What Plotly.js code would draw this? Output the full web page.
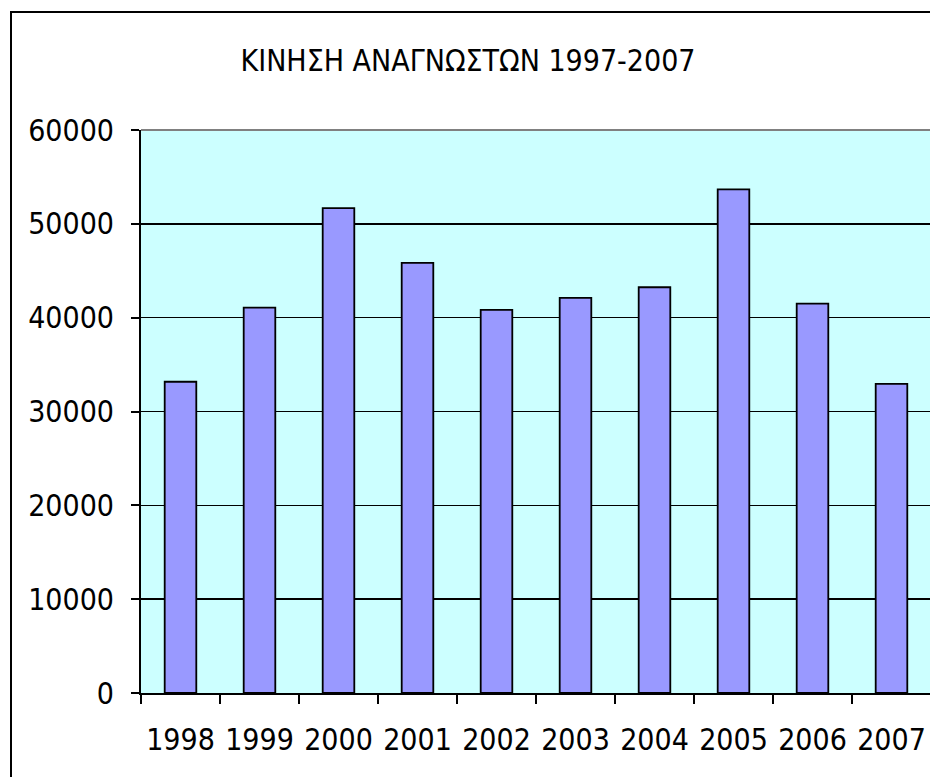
<!DOCTYPE html>
<html>
<head>
<meta charset="utf-8">
<script src="https://cdn.plot.ly/plotly-3.0.1.min.js"></script>
<style>
html, body { margin: 0; padding: 0; overflow: hidden; background: #ffffff; }
#chart { width: 931px; height: 800px; }
</style>
</head>
<body>
<div id="chart"></div>
<script>
var years = ['1998', '1999', '2000', '2001', '2002', '2003', '2004', '2005', '2006', '2007'];
var readers = [33170, 41070, 51670, 45840, 40820, 42100, 43240, 53670, 41500, 32950];
var yTicks = [0, 10000, 20000, 30000, 40000, 50000, 60000];
var titleText = 'ΚΙΝΗΣΗ ΑΝΑΓΝΩΣΤΩΝ 1997-2007';

var fontFamily = '"DejaVu Sans Condensed", "DejaVu Sans", sans-serif';
var fs = 30;
var W = 931, H = 800;
var mL = 141, mR = 0, mT = 130, mB = 107;
var pw = W - mL - mR, ph = H - mT - mB;

var trace = {
  type: 'bar',
  x: years,
  y: readers,
  marker: { color: '#9999FF', line: { color: '#000000', width: 1.8 } },
  hoverinfo: 'none'
};

var layout = {
  width: W,
  height: H,
  margin: { l: mL, r: mR, t: mT, b: mB, pad: 0 },
  paper_bgcolor: '#ffffff',
  plot_bgcolor: '#CCFFFF',
  showlegend: false,
  bargap: 0.6,
  font: { family: fontFamily, size: fs, color: '#000000' },
  title: {
    text: titleText,
    font: { family: fontFamily, size: fs, color: '#000000' },
    x: 468 / W,
    xref: 'container',
    xanchor: 'center',
    y: 1 - 60 / H,
    yref: 'container',
    yanchor: 'middle'
  },
  xaxis: {
    type: 'category',
    showgrid: false,
    showline: true,
    linecolor: '#000000',
    linewidth: 2,
    ticks: 'outside',
    tickson: 'boundaries',
    ticklen: 9,
    tickwidth: 2,
    tickcolor: '#000000',
    ticklabelstandoff: 19,
    tickfont: { family: fontFamily, size: fs, color: '#000000' },
    zeroline: false,
    fixedrange: true
  },
  yaxis: {
    range: [0, 60000],
    tickvals: yTicks,
    tickformat: 'd',
    showgrid: true,
    gridcolor: '#000000',
    gridwidth: 1.5,
    showline: true,
    linecolor: '#000000',
    linewidth: 2,
    ticks: 'outside',
    ticklen: 8,
    tickwidth: 2,
    tickcolor: '#000000',
    ticklabelstandoff: 11,
    tickfont: { family: fontFamily, size: fs, color: '#000000' },
    zeroline: false,
    fixedrange: true
  },
  shapes: [
    {
      type: 'line', xref: 'paper', yref: 'paper',
      x0: 0, x1: 1, y0: 1, y1: 1,
      line: { color: '#808080', width: 2 }, layer: 'above'
    },
    {
      type: 'rect', xref: 'paper', yref: 'paper',
      x0: (11 - mL) / pw, x1: 1.5,
      y0: -0.5, y1: (mT + ph - 12) / ph,
      line: { color: '#000000', width: 2 }, fillcolor: 'rgba(0,0,0,0)', layer: 'above'
    }
  ]
};

Plotly.newPlot('chart', [trace], layout, { staticPlot: true, displayModeBar: false });
</script>
</body>
</html>
